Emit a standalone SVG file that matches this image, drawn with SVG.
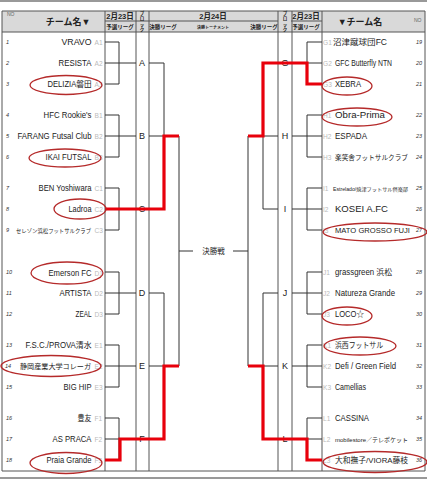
<svg xmlns="http://www.w3.org/2000/svg" width="427" height="480" viewBox="0 0 427 480">
<style>
text{font-family:"Liberation Sans","Noto Sans CJK JP",sans-serif;fill:#222}
.nm{font-size:8.2px}
.nml{font-size:8.2px;text-anchor:end}
.cd{font-size:6.6px;fill:#bbb}
.no{font-size:5.5px;font-style:italic;fill:#333}
.hd{font-weight:bold;fill:#222;text-anchor:middle}
.lt{font-size:9px;text-anchor:middle}
.grid{stroke:#555;stroke-width:1;fill:none}
.br{stroke:#333;stroke-width:1;fill:none}
.win{stroke:#e8000b;stroke-width:3.2;fill:none;stroke-linejoin:miter}
.ov{stroke:#b52a2a;stroke-width:1.3;fill:none}
</style>
<rect x="0" y="0" width="427" height="480" fill="#fff"/>
<line x1="0" y1="1" x2="427" y2="1" stroke="#999" stroke-width="2"/>
<line x1="0" y1="478" x2="427" y2="478" stroke="#999" stroke-width="2"/>

<g id="header">
<rect x="2" y="11" width="423" height="21" fill="#d9d9d9"/>
<path class="grid" d="M2,11H425M105,21H278M291,21H322M2,32H425"/>
<text x="7" y="16" style="font-size:5px;fill:#666">NO</text>
<text x="68" y="25" class="hd" style="font-size:9px">チーム名▼</text>
<text x="120" y="19" class="hd" style="font-size:7.5px">2月23日</text>
<text x="120" y="29" class="hd" style="font-size:5.5px">予選リーグ</text>
<text x="142" y="15" class="hd" style="font-size:4.5px">ブ</text>
<text x="142" y="20" class="hd" style="font-size:4.5px">ロ</text>
<text x="142" y="25.5" class="hd" style="font-size:4.5px">ッ</text>
<text x="142" y="31" class="hd" style="font-size:4.5px">ク</text>
<text x="213" y="19" class="hd" style="font-size:7.5px">2月24日</text>
<text x="163" y="29" class="hd" style="font-size:5.5px">決勝リーグ</text>
<text x="213" y="28.5" class="hd" style="font-size:4px">決勝トーナメント</text>
<text x="264" y="29" class="hd" style="font-size:5.5px">決勝リーグ</text>
<text x="285" y="15" class="hd" style="font-size:4.5px">ブ</text>
<text x="285" y="20" class="hd" style="font-size:4.5px">ロ</text>
<text x="285" y="25.5" class="hd" style="font-size:4.5px">ッ</text>
<text x="285" y="31" class="hd" style="font-size:4.5px">ク</text>
<text x="306" y="19" class="hd" style="font-size:7.5px">2月23日</text>
<text x="306" y="29" class="hd" style="font-size:5.5px">予選リーグ</text>
<text x="360" y="25" class="hd" style="font-size:9px">▼チーム名</text>
<text x="414" y="22" style="font-size:5px;fill:#666">NO</text>
</g>

<g id="grid">
<path class="grid" d="M2,11V471M105,11V471M136,11V471M149,11V471M278,11V471M292,11V471M322,11V471M425,11V471M2,471H425"/>
</g>

<g id="connectors">
<path class="br" d="M105,42H119V84H105M105,63H136M149,63H164"/>
<path class="br" d="M105,115H119V157H105M105,136H136M149,136H164"/>
<path class="br" d="M105,188H119V230H105M105,209H136M149,209H164"/>
<path class="br" d="M105,272H119V314H105M105,293H136M149,293H164"/>
<path class="br" d="M105,345H119V387H105M105,366H136M149,366H164"/>
<path class="br" d="M105,418H119V460H105M105,439H136M149,439H164"/>
<path class="br" d="M164,63V209M164,293V439M179,136V366M179,251H193"/>
<path class="br" d="M322,42H307V84H322M322,63H292M278,63H263"/>
<path class="br" d="M322,115H307V157H322M322,136H292M278,136H263"/>
<path class="br" d="M322,188H307V230H322M322,209H292M278,209H263"/>
<path class="br" d="M322,272H307V314H322M322,293H292M278,293H263"/>
<path class="br" d="M322,345H307V387H322M322,366H292M278,366H263"/>
<path class="br" d="M322,418H307V460H322M322,439H292M278,439H263"/>
<path class="br" d="M263,63V209M263,293V439M248,136V366M248,251H233"/>
</g>

<g id="blocks">
<text class="lt" x="142" y="66">A</text>
<text class="lt" x="142" y="139">B</text>
<text class="lt" x="142" y="212">C</text>
<text class="lt" x="142" y="296">D</text>
<text class="lt" x="142" y="369">E</text>
<text class="lt" x="142" y="442">F</text>
<text class="lt" x="285" y="66">G</text>
<text class="lt" x="285" y="139">H</text>
<text class="lt" x="285" y="212">I</text>
<text class="lt" x="285" y="296">J</text>
<text class="lt" x="285" y="369">K</text>
<text class="lt" x="285" y="442">L</text>
</g>

<g id="final">
<text x="213.5" y="254" style="font-size:7.5px;text-anchor:middle">決勝戦</text>
</g>

<g id="winners">
<path class="win" d="M105,209H164V136H179"/>
<path class="win" d="M105,460H120V439H164V366H179"/>
<path class="win" d="M322,84H307V63H263V136H248"/>
<path class="win" d="M322,460H307V439H263V366H248"/>
</g>

<g id="teams-left">
<g id="t1"><text class="no" x="6" y="44">1</text><text class="nml" x="91.5" y="45" textLength="30" lengthAdjust="spacingAndGlyphs">VRAVO</text><text class="cd" x="94.5" y="45">A1</text></g>
<g id="t2"><text class="no" x="6" y="65">2</text><text class="nml" x="91.5" y="66" textLength="33" lengthAdjust="spacingAndGlyphs">RESISTA</text><text class="cd" x="94.5" y="66">A2</text></g>
<g id="t3"><text class="no" x="6" y="86">3</text><text class="nml" x="91.5" y="87" textLength="44" lengthAdjust="spacingAndGlyphs">DELIZIA磐田</text><text class="cd" x="94.5" y="87">A3</text></g>
<g id="t4"><text class="no" x="6" y="117">4</text><text class="nml" x="91.5" y="118" textLength="48" lengthAdjust="spacingAndGlyphs">HFC Rookie's</text><text class="cd" x="94.5" y="118">B1</text></g>
<g id="t5"><text class="no" x="6" y="138">5</text><text class="nml" x="91.5" y="139" textLength="74" lengthAdjust="spacingAndGlyphs">FARANG Futsal Club</text><text class="cd" x="94.5" y="139">B2</text></g>
<g id="t6"><text class="no" x="6" y="159">6</text><text class="nml" x="91.5" y="160" textLength="46" lengthAdjust="spacingAndGlyphs">IKAI FUTSAL</text><text class="cd" x="94.5" y="160">B3</text></g>
<g id="t7"><text class="no" x="6" y="190">7</text><text class="nml" x="91.5" y="191" textLength="53" lengthAdjust="spacingAndGlyphs">BEN Yoshiwara</text><text class="cd" x="94.5" y="191">C1</text></g>
<g id="t8"><text class="no" x="6" y="211">8</text><text class="nml" x="91.5" y="212" textLength="23" lengthAdjust="spacingAndGlyphs">Ladroa</text><text class="cd" x="94.5" y="212">C2</text></g>
<g id="t9"><text class="no" x="6" y="232">9</text><text class="nml" x="91" y="232.5" style="font-size:5.5px" textLength="75" lengthAdjust="spacingAndGlyphs">セレゾン浜松フットサルクラブ</text><text class="cd" x="94.5" y="233">C3</text></g>
<g id="t10"><text class="no" x="6" y="274">10</text><text class="nml" x="91.5" y="276" textLength="43" lengthAdjust="spacingAndGlyphs">Emerson FC</text><text class="cd" x="94.5" y="276">D1</text></g>
<g id="t11"><text class="no" x="6" y="295">11</text><text class="nml" x="91.5" y="296" textLength="32" lengthAdjust="spacingAndGlyphs">ARTISTA</text><text class="cd" x="94.5" y="296">D2</text></g>
<g id="t12"><text class="no" x="6" y="316">12</text><text class="nml" x="91.5" y="317" textLength="16" lengthAdjust="spacingAndGlyphs">ZEAL</text><text class="cd" x="94.5" y="317">D3</text></g>
<g id="t13"><text class="no" x="6" y="347">13</text><text class="nml" x="91.5" y="348" textLength="66" lengthAdjust="spacingAndGlyphs">F.S.C./PROVA清水</text><text class="cd" x="94.5" y="348">E1</text></g>
<g id="t14"><text class="no" x="5" y="368">14</text><text class="nml" x="91" y="369" style="font-size:7.2px" textLength="71" lengthAdjust="spacingAndGlyphs">静岡産業大学コレーガ</text><text class="cd" x="94.5" y="369">E2</text></g>
<g id="t15"><text class="no" x="6" y="389">15</text><text class="nml" x="91.5" y="390" textLength="28" lengthAdjust="spacingAndGlyphs">BIG HIP</text><text class="cd" x="94.5" y="390">E3</text></g>
<g id="t16"><text class="no" x="6" y="420">16</text><text class="nml" x="91.5" y="421" textLength="14" lengthAdjust="spacingAndGlyphs">豊友</text><text class="cd" x="94.5" y="421">F1</text></g>
<g id="t17"><text class="no" x="6" y="441">17</text><text class="nml" x="91.5" y="442" textLength="39" lengthAdjust="spacingAndGlyphs">AS PRACA</text><text class="cd" x="94.5" y="442">F2</text></g>
<g id="t18"><text class="no" x="6" y="462">18</text><text class="nml" x="91.5" y="463" textLength="45" lengthAdjust="spacingAndGlyphs">Praia Grande</text><text class="cd" x="94.5" y="463">F3</text></g>
</g>

<g id="teams-right">
<g id="t19"><text class="cd" x="323" y="45">G1</text><text class="nm" x="333" y="45" textLength="54" lengthAdjust="spacingAndGlyphs">沼津蹴球団FC</text><text class="no" x="416" y="44">19</text></g>
<g id="t20"><text class="cd" x="323" y="66">G2</text><text class="nm" x="335" y="66" textLength="57" lengthAdjust="spacingAndGlyphs">GFC Butterfly NTN</text><text class="no" x="416" y="65">20</text></g>
<g id="t21"><text class="cd" x="323" y="87">G3</text><text class="nm" x="335" y="87" textLength="26" lengthAdjust="spacingAndGlyphs">XEBRA</text><text class="no" x="416" y="86">21</text></g>
<g id="t22"><text class="cd" x="323" y="118">H1</text><text class="nm" x="335" y="118" textLength="50" lengthAdjust="spacingAndGlyphs">Obra-Prima</text><text class="no" x="416" y="117">22</text></g>
<g id="t23"><text class="cd" x="323" y="139">H2</text><text class="nm" x="335" y="139" textLength="32" lengthAdjust="spacingAndGlyphs">ESPADA</text><text class="no" x="416" y="138">23</text></g>
<g id="t24"><text class="cd" x="323" y="160">H3</text><text class="nm" x="335" y="160" style="font-size:6.8px" textLength="73" lengthAdjust="spacingAndGlyphs">楽笑舎フットサルクラブ</text><text class="no" x="416" y="159">24</text></g>
<g id="t25"><text class="cd" x="323" y="191">I1</text><text class="nm" x="333" y="190.5" style="font-size:4.8px" textLength="75" lengthAdjust="spacingAndGlyphs">Estrelado/焼津フットサル倶楽部</text><text class="no" x="416" y="190">25</text></g>
<g id="t26"><text class="cd" x="323" y="212">I2</text><text class="nm" x="335" y="212" textLength="53" lengthAdjust="spacingAndGlyphs">KOSEI A.FC</text><text class="no" x="416" y="211">26</text></g>
<g id="t27"><text class="cd" x="323" y="233">I3</text><text class="nm" x="335" y="233" style="font-size:7.6px" textLength="75" lengthAdjust="spacingAndGlyphs">MATO GROSSO FUJI</text><text class="no" x="416" y="232">27</text></g>
<g id="t28"><text class="cd" x="323" y="275">J1</text><text class="nm" x="335" y="275" textLength="57" lengthAdjust="spacingAndGlyphs">grassgreen 浜松</text><text class="no" x="416" y="274">28</text></g>
<g id="t29"><text class="cd" x="323" y="296">J2</text><text class="nm" x="335" y="296" textLength="60" lengthAdjust="spacingAndGlyphs">Natureza Grande</text><text class="no" x="416" y="295">29</text></g>
<g id="t30"><text class="cd" x="323" y="317">J3</text><text class="nm" x="335" y="317" textLength="29" lengthAdjust="spacingAndGlyphs">LOCO☆</text><text class="no" x="416" y="316">30</text></g>
<g id="t31"><text class="cd" x="323" y="348">K1</text><text class="nm" x="335" y="348" textLength="48" lengthAdjust="spacingAndGlyphs">浜西フットサル</text><text class="no" x="416" y="347">31</text></g>
<g id="t32"><text class="cd" x="323" y="369">K2</text><text class="nm" x="335" y="369" textLength="61" lengthAdjust="spacingAndGlyphs">Defi / Green Field</text><text class="no" x="416" y="368">32</text></g>
<g id="t33"><text class="cd" x="323" y="390">K3</text><text class="nm" x="335" y="390" textLength="31" lengthAdjust="spacingAndGlyphs">Camellias</text><text class="no" x="416" y="389">33</text></g>
<g id="t34"><text class="cd" x="323" y="421">L1</text><text class="nm" x="335" y="421" textLength="34" lengthAdjust="spacingAndGlyphs">CASSINA</text><text class="no" x="416" y="420">34</text></g>
<g id="t35"><text class="cd" x="323" y="442">L2</text><text class="nm" x="335" y="441.5" style="font-size:6px" textLength="73" lengthAdjust="spacingAndGlyphs">mobilestore／テレポケット</text><text class="no" x="416" y="441">35</text></g>
<g id="t36"><text class="cd" x="323" y="463">L3</text><text class="nm" x="335" y="463" style="font-size:7.6px" textLength="73" lengthAdjust="spacingAndGlyphs">大和撫子/VIORA藤枝</text><text class="no" x="416" y="462">36</text></g>
</g>

<g id="marks">
<ellipse class="ov" cx="66" cy="85" rx="36" ry="9.5"/>
<ellipse class="ov" cx="65" cy="158" rx="36" ry="9"/>
<ellipse class="ov" cx="80" cy="209" rx="26" ry="10"/>
<ellipse class="ov" cx="67" cy="273" rx="36" ry="11"/>
<ellipse class="ov" cx="51" cy="366" rx="50" ry="10.5"/>
<ellipse class="ov" cx="66" cy="463" rx="36" ry="10.5"/>
<ellipse class="ov" cx="347" cy="86" rx="25" ry="9"/>
<ellipse class="ov" cx="357" cy="117" rx="35" ry="9"/>
<ellipse class="ov" cx="375" cy="232" rx="52" ry="9"/>
<ellipse class="ov" cx="347" cy="316" rx="25" ry="9"/>
<ellipse class="ov" cx="360" cy="346" rx="36" ry="9"/>
<ellipse class="ov" cx="375" cy="462" rx="52" ry="10.5"/>
</g>
</svg>
